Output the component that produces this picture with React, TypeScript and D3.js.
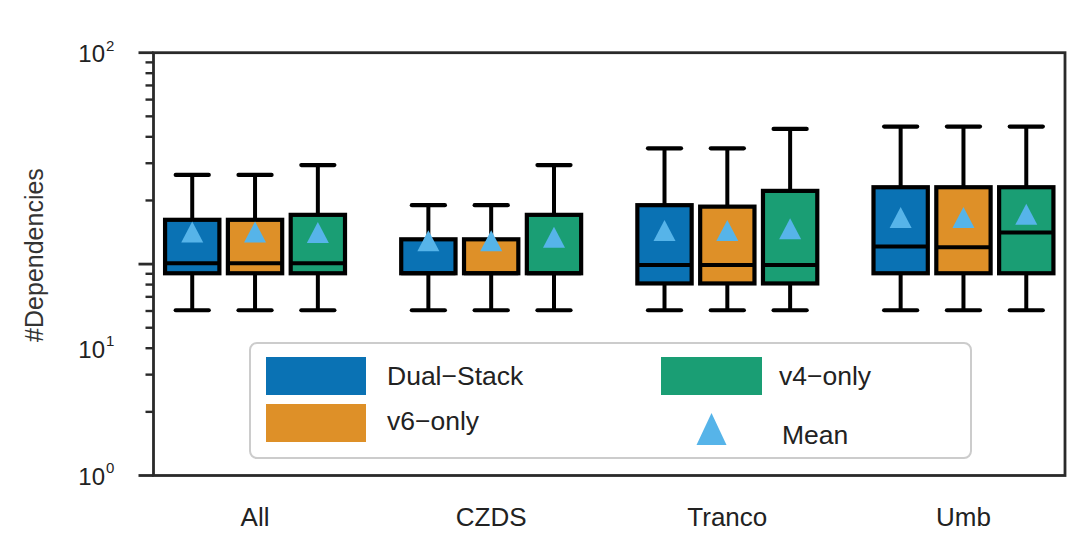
import React from "react";
import * as d3 from "d3";

const categories = ["All", "CZDS", "Tranco", "Umb"];
const seriesNames = ["Dual\u2212Stack", "v6\u2212only", "v4\u2212only"];
const seriesColors = ["#0A72B4", "#DE9028", "#1A9E74"];
const meanColor = "#56B4E9";

// per series, per category
const whiskerHigh = [
  [26.4, 19.0, 35.3, 44.7],
  [26.4, 19.0, 35.3, 44.7],
  [29.4, 29.4, 43.6, 44.7],
];
const q3 = [
  [16.2, 13.1, 19.0, 23.1],
  [16.2, 13.1, 18.7, 23.1],
  [17.1, 17.1, 22.2, 23.1],
];
const median = [
  [10.1, 9.05, 9.9, 12.1],
  [10.1, 9.05, 9.9, 12.0],
  [10.1, 9.05, 9.9, 14.1],
];
const q1 = [
  [9.05, 9.05, 8.1, 9.05],
  [9.05, 9.05, 8.1, 9.05],
  [9.05, 9.05, 8.1, 9.05],
];
const whiskerLow = [
  [6.05, 6.05, 6.05, 6.05],
  [6.05, 6.05, 6.05, 6.05],
  [6.05, 6.05, 6.05, 6.05],
];
const means = [
  [14.2, 12.9, 14.4, 16.6],
  [14.2, 12.9, 14.4, 16.6],
  [14.1, 13.4, 14.7, 17.2],
];

const majorTicks = [1, 10, 100];
const minorTicks = [2, 3, 4, 5, 6, 7, 8, 9, 20, 30, 40, 50, 60, 70, 80, 90];
// tick labels: exponent and the value at which the label sits in the reference
const tickLabelExps = [0, 1, 2];
const tickLabelAt = [1, 4, 100];

const W = 1080;
const H = 536;
const left = 153.5;
const right = 1065;
const top = 52.7;
const bottom = 475.5;

export default function App() {
  const y = d3.scaleLog().domain([1, 100]).range([bottom, top]);
  const x = d3.scalePoint<string>().domain(categories).range([left, right]).padding(0.43);
  const step = x.step();
  const offset = step * 0.266;
  const boxW = step * 0.23;
  const capW = step * 0.14;
  const font = "'Liberation Sans', Arial, Helvetica, sans-serif";

  const tri = (cx: number, cy: number, w: number, h: number) =>
    `M${cx},${cy - h / 2}L${cx + w / 2},${cy + h / 2}L${cx - w / 2},${cy + h / 2}Z`;

  return (
    <div style={{ position: "fixed", left: 0, top: 0, width: W, height: H, background: "#fff" }}>
      <svg width={W} height={H} style={{ display: "block" }}>
        <rect x={0} y={0} width={W} height={H} fill="#fff" />
        {/* boxes */}
        {seriesNames.map((s, si) =>
          categories.map((c, ci) => {
            const cx = (x(c) as number) + (si - 1) * offset;
            return (
              <g key={s + c}>
                <line x1={cx} x2={cx} y1={y(whiskerHigh[si][ci])} y2={y(q3[si][ci])} stroke="#000" strokeWidth={4} />
                <line x1={cx} x2={cx} y1={y(q1[si][ci])} y2={y(whiskerLow[si][ci])} stroke="#000" strokeWidth={4} />
                <line x1={cx - capW / 2} x2={cx + capW / 2} y1={y(whiskerHigh[si][ci])} y2={y(whiskerHigh[si][ci])} stroke="#000" strokeWidth={4.2} strokeLinecap="round" />
                <line x1={cx - capW / 2} x2={cx + capW / 2} y1={y(whiskerLow[si][ci])} y2={y(whiskerLow[si][ci])} stroke="#000" strokeWidth={4.2} strokeLinecap="round" />
                <rect
                  x={cx - boxW / 2}
                  y={y(q3[si][ci])}
                  width={boxW}
                  height={y(q1[si][ci]) - y(q3[si][ci])}
                  fill={seriesColors[si]}
                  stroke="#000"
                  strokeWidth={4.2}
                />
                <line x1={cx - boxW / 2} x2={cx + boxW / 2} y1={y(median[si][ci])} y2={y(median[si][ci])} stroke="#000" strokeWidth={4} />
                <path d={tri(cx, y(means[si][ci]), 22, 21)} fill={meanColor} />
              </g>
            );
          })
        )}
        {/* frame */}
        <rect x={left} y={top} width={right - left} height={bottom - top} fill="none" stroke="#2a2a2a" strokeWidth={2.8} />
        {/* y ticks */}
        {majorTicks.map((t) => (
          <line key={"M" + t} x1={left - 15} x2={left} y1={y(t)} y2={y(t)} stroke="#2a2a2a" strokeWidth={2.8} />
        ))}
        {minorTicks.map((t) => (
          <line key={"m" + t} x1={left - 8} x2={left} y1={y(t)} y2={y(t)} stroke="#2a2a2a" strokeWidth={2.4} />
        ))}
        {tickLabelExps.map((e, i) => (
          <text key={"tl" + e} x={105} y={y(tickLabelAt[i]) + 3} textAnchor="end" dominantBaseline="middle" fontFamily={font} fontSize={24} fill="#222">
            10
          </text>
        ))}
        {tickLabelExps.map((e, i) => (
          <text key={"te" + e} x={106} y={y(tickLabelAt[i]) - 6} textAnchor="start" dominantBaseline="middle" fontFamily={font} fontSize={15} fill="#222">
            {e}
          </text>
        ))}
        {/* x tick labels */}
        {categories.map((c) => (
          <text key={"x" + c} x={x(c) as number} y={526} textAnchor="middle" fontFamily={font} fontSize={26} fill="#222">
            {c}
          </text>
        ))}
        {/* y label */}
        <text transform={`translate(43,${(165 + 345) / 2}) rotate(-90)`} textAnchor="middle" fontFamily={font} fontSize={25} fill="#333">
          #Dependencies
        </text>
        {/* legend */}
        <rect x={250} y={343} width={721} height={115} rx={7} fill="#fff" fillOpacity={0.85} stroke="#ccc" strokeWidth={2} />
        <rect x={266} y={357} width={100} height={38} fill={seriesColors[0]} />
        <text x={387} y={385} fontFamily={font} fontSize={26.5} fill="#222">{seriesNames[0]}</text>
        <rect x={266} y={404} width={100} height={38} fill={seriesColors[1]} />
        <text x={387} y={430} fontFamily={font} fontSize={26.5} fill="#222">{seriesNames[1]}</text>
        <rect x={661} y={357} width={101} height={38} fill={seriesColors[2]} />
        <text x={779} y={385} fontFamily={font} fontSize={26.5} fill="#222">{seriesNames[2]}</text>
        <path d={tri(711.5, 429, 30, 32)} fill={meanColor} />
        <text x={782} y={444} fontFamily={font} fontSize={26.5} fill="#222">Mean</text>
      </svg>
    </div>
  );
}
